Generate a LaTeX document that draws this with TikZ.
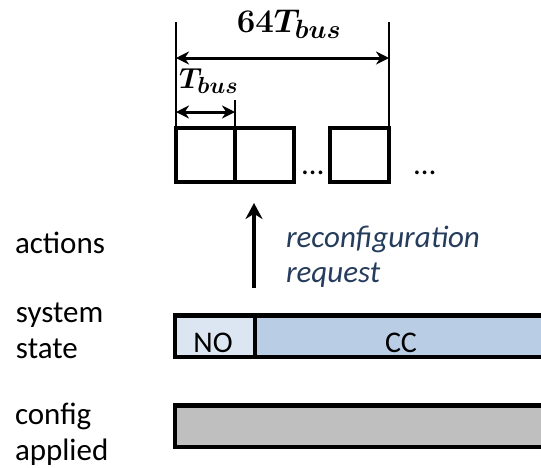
\RequirePackage{fix-cm}
\documentclass[tikz,border=0pt]{standalone}
\usepackage[no-math]{fontspec}
\setmainfont{Carlito}
\usetikzlibrary{arrows.meta}
\renewcommand{\defaultscriptratio}{.8}
\definecolor{noblue}{RGB}{220,230,242}
\definecolor{ccblue}{RGB}{185,205,229}
\definecolor{cfggray}{RGB}{191,191,191}
\definecolor{notecol}{RGB}{38,60,92}
\tikzset{
  every node/.style={outer sep=0pt},
  slot/.style={draw, line width=4.5pt, minimum width=59pt, minimum height=54pt, inner sep=0pt, anchor=north west},
  bar/.style={draw, line width=4.5pt, inner sep=0pt, anchor=north west, minimum height=41.5pt},
  tick/.style={line width=1.5pt},
  span/.style={line width=3pt, {Stealth[length=13pt,width=13pt]}-{Stealth[length=13pt,width=13pt]}},
  rowlabel/.style={font=\fontsize{31}{36}\selectfont, align=left, anchor=base west, inner sep=0pt},
  barlabel/.style={font=\fontsize{30}{36}\selectfont, anchor=base, inner sep=0pt},
  dotlabel/.style={font=\fontsize{31}{36}\selectfont, anchor=base west, inner sep=0pt},
}
\begin{document}
\begin{tikzpicture}[x=1pt,y=-1pt]
\useasboundingbox (0,0) rectangle (541,467);
\clip (0,0) rectangle (541,467);

% time slots of the bus
\node[slot] (s1) at (176,128) {};
\node[slot] (s2) at (235,128) {};
\node[slot] (s3) at (330,128) {};
\node[dotlabel] (d1) at (302,174) {…};
\node[dotlabel] (d2) at (414,174) {…};

% dimension lines
\coordinate (t1top) at (176,22);
\coordinate (t2top) at (389,22);
\coordinate (t3top) at (235,100);
\draw[tick] (s1.north west) -- (t1top);
\draw[tick] (s3.north east) -- (t2top);
\draw[tick] (s1.north east) -- (t3top);

\coordinate (a1) at (176,58);
\coordinate (a2) at (389,58);
\draw[span] (a1) -- (a2);
\node[font=\fontsize{33}{40}\selectfont\boldmath, anchor=base, inner sep=0pt] (L64) at (289,32) {$64T_{bus}$};

\coordinate (b1) at (176,112);
\coordinate (b2) at (235,112);
\draw[span] (b1) -- (b2);
\node[font=\fontsize{29}{34}\selectfont\boldmath, anchor=base west, inner sep=0pt] (Lt) at (179,88) {$T_{bus}$};

% reconfiguration request (multi-line nodes: base = last line)
\coordinate (rq0) at (254,288);
\coordinate (rq1) at (254,203);
\draw[line width=4.5pt, -{Stealth[length=16pt,width=17pt]}] (rq0) -- (rq1);
\node[rowlabel, text=notecol, font=\fontsize{31}{35}\selectfont\itshape] (req) at (286,282) {reconfiguration\\request};

% row labels
\node[rowlabel] (lact) at (15,253) {actions};
\node[rowlabel] (lsys) at (16,358) {system\\state};
\node[rowlabel] (lcfg) at (15,460) {config\\applied};

% system state bar
\node[bar, fill=noblue, minimum width=80pt] (no) at (175,315.5) {};
\node[bar, fill=ccblue, minimum width=330pt] (cc) at (255,315.5) {};
\node[barlabel] (tno) at (213,352) {NO};
\node[barlabel] (tcc) at (401,352) {CC};

% applied configuration bar
\node[bar, fill=cfggray, minimum width=400pt] (cfg) at (175,405.5) {};
\end{tikzpicture}
\end{document}
